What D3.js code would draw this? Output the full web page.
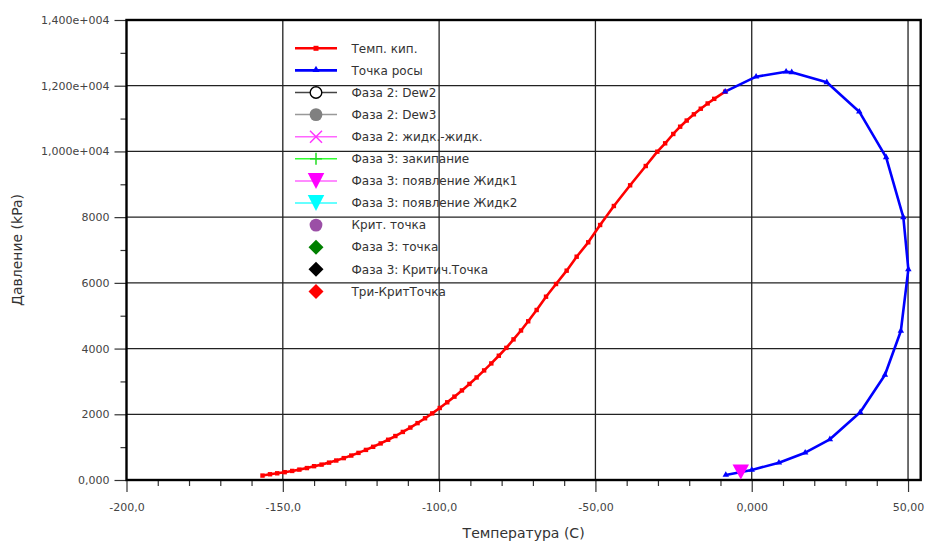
<!DOCTYPE html>
<html><head><meta charset="utf-8">
<script src="https://cdn.jsdelivr.net/npm/d3@7"></script>
<style>
html,body{margin:0;padding:0;background:#fff;}
svg{display:block;font-family:"DejaVu Sans",sans-serif;}
</style></head>
<body>
<svg id="chart" width="927" height="541"></svg>
<script>
// ---- DATA ----
const bubbleT = [-156.5,-154.1,-151.8,-149.4,-147.0,-144.7,-142.3,-140.0,-137.6,-135.2,-132.9,-130.5,-128.1,-125.8,-123.4,-121.1,-118.7,-116.3,-114.0,-111.6,-109.2,-106.9,-104.5,-102.2,-99.8,-97.4,-95.1,-92.7,-90.3,-88.0,-85.6,-83.3,-80.9,-78.5,-76.2,-73.8,-71.5,-68.8,-65.8,-62.6,-59.2,-56.0,-52.3,-48.5,-44.1,-38.9,-33.9,-30.2,-27.7,-25.1,-22.9,-20.8,-18.5,-16.3,-14.1,-12.0,-8.5];
const bubbleP = [135,175,204,238,276,316,363,420,468,529,593,666,744,825,916,1010,1113,1225,1338,1463,1596,1731,1879,2028,2192,2365,2537,2726,2924,3121,3335,3548,3782,4021,4280,4550,4830,5174,5579,5965,6371,6796,7234,7761,8339,8969,9556,9992,10247,10531,10753,10940,11130,11300,11460,11600,11818];
const dewT = [-8.3,0.0,8.7,17.1,25.0,34.7,42.6,47.7,50.1,48.5,43.0,34.4,24.0,12.8,11.0,1.4,-8.5];
const dewP = [152,304,527,831,1239,2060,3196,4535,6413,7995,9821,11209,12104,12408,12427,12275,11818];
const liq1T = [-3.5];
const liq1P = [240];
const xTicks = [-200,-150,-100,-50,0,50];
const xTickLabels = ["-200,0","-150,0","-100,0","-50,00","0,000","50,00"];
const yTicks = [0,2000,4000,6000,8000,10000,12000,14000];
const yTickLabels = ["0,000","2000","4000","6000","8000","1,000e+004","1,200e+004","1,400e+004"];
const legendLabels = ["Темп. кип.","Точка росы","Фаза 2: Dew2","Фаза 2: Dew3","Фаза 2: жидк.-жидк.","Фаза 3: закипание","Фаза 3: появление Жидк1","Фаза 3: появление Жидк2","Крит. точка","Фаза 3: точка","Фаза 3: Критич.Точка","Три-КритТочка"];
const xTitle = "Температура (С)";
const yTitle = "Давление (kPa)";

// ---- DRAW ----
const svg = d3.select("#chart");
const L = 126.5, R = 920.7, T = 20, B = 480;
const x = d3.scaleLinear().domain([-200, 54.05]).range([L, R]);
const y = d3.scaleLinear().domain([0, 14000]).range([B, T]);

const xMinor = d3.range(-200, 55, 10).filter(v => v % 50 !== 0);
const yMinor = d3.range(1000, 14000, 2000);

// grid
const grid = svg.append("g");
grid.selectAll("line.gx").data(xTicks.filter(v => v > -200)).enter().append("line")
  .attr("x1", d => x(d)).attr("x2", d => x(d)).attr("y1", T).attr("y2", B)
  .attr("stroke", "#222").attr("stroke-width", 1.3);
grid.selectAll("line.gy").data(yTicks.filter(v => v > 0 && v < 14000)).enter().append("line")
  .attr("x1", L).attr("x2", R).attr("y1", d => y(d)).attr("y2", d => y(d))
  .attr("stroke", "#222").attr("stroke-width", 1.3);

// axes
const yAxis = d3.axisLeft(y).tickValues(yTicks).tickSize(12).tickPadding(5)
  .tickFormat((d, i) => yTickLabels[i]);
const gy = svg.append("g").attr("transform", `translate(${L},0)`).call(yAxis);
const xAxis = d3.axisBottom(x).tickValues(xTicks).tickSize(12).tickPadding(11)
  .tickFormat((d, i) => xTickLabels[i]);
const gx = svg.append("g").attr("transform", `translate(0,${B})`).call(xAxis);
[gx, gy].forEach(g => {
  g.select(".domain").remove();
  g.selectAll(".tick line").attr("stroke", "#333").attr("stroke-width", 1.2);
  g.selectAll(".tick text").attr("fill", "#444").style("font-size", "11px")
    .style("font-family", "'DejaVu Sans',sans-serif");
});
svg.append("g").attr("transform", `translate(${L},0)`)
  .call(d3.axisLeft(y).tickValues(yMinor).tickSize(6).tickFormat(""))
  .call(g => { g.select(".domain").remove(); g.selectAll("line").attr("stroke", "#333").attr("stroke-width", 1.2); });
svg.append("g").attr("transform", `translate(0,${B})`)
  .call(d3.axisBottom(x).tickValues(xMinor).tickSize(6).tickFormat(""))
  .call(g => { g.select(".domain").remove(); g.selectAll("line").attr("stroke", "#333").attr("stroke-width", 1.2); });

// frame
svg.append("rect").attr("x", L).attr("y", T).attr("width", R - L).attr("height", B - T)
  .attr("fill", "none").attr("stroke", "#000").attr("stroke-width", 2.4);

// titles
svg.append("text").attr("x", (L + R) / 2).attr("y", 538).attr("text-anchor", "middle")
  .attr("fill", "#333").style("font-size", "14px").text(xTitle);
svg.append("text").attr("transform", `translate(22,${(T + B) / 2}) rotate(-90)`)
  .attr("text-anchor", "middle").attr("fill", "#333").style("font-size", "14px").text(yTitle);

// curves
const bubble = bubbleT.map((t, i) => [t, bubbleP[i]]);
const dew = dewT.map((t, i) => [t, dewP[i]]);
const line = d3.line().x(d => x(d[0])).y(d => y(d[1]));
svg.append("path").datum(bubble).attr("d", line).attr("fill", "none")
  .attr("stroke", "#ff0000").attr("stroke-width", 2.6).attr("stroke-linejoin", "round");
svg.append("path").datum(dew).attr("d", line).attr("fill", "none")
  .attr("stroke", "#0000ff").attr("stroke-width", 2.6).attr("stroke-linejoin", "round");
svg.selectAll("rect.bm").data(bubble).enter().append("rect")
  .attr("x", d => x(d[0]) - 2.2).attr("y", d => y(d[1]) - 2.2)
  .attr("width", 4.4).attr("height", 4.4).attr("fill", "#ff0000");
const triUp = d3.symbol().type(d3.symbolTriangle).size(18);
svg.selectAll("path.dm").data(dew).enter().append("path")
  .attr("transform", d => `translate(${x(d[0])},${y(d[1])})`)
  .attr("d", triUp).attr("fill", "#0000ff");

// special point: Жидк1
function downTri(cx, cy, w, h) {
  return `M${cx - w / 2},${cy - h / 2}L${cx + w / 2},${cy - h / 2}L${cx},${cy + h / 2}Z`;
}
liq1T.forEach((t, i) => {
  svg.append("path").attr("d", downTri(x(t), y(liq1P[i]), 16.5, 15)).attr("fill", "#ff00ff");
});

// legend
const lg = svg.append("g");
const lx0 = 295, lx1 = 337, lmx = 316, ltx = 351.5, ly0 = 48.3, ldy = 22.1;
const items = [
  {line: "#ff0000", sym: "sq", c: "#ff0000"},
  {line: "#0000ff", sym: "tri", c: "#0000ff"},
  {line: "#444", sym: "ocirc", c: "#000"},
  {line: "#999", sym: "circ", c: "#808080"},
  {line: "#ff66ff", sym: "x", c: "#ff33ff"},
  {line: "#33ff33", sym: "plus", c: "#22dd22"},
  {line: "#ff66ff", sym: "dtri", c: "#ff00ff"},
  {line: "#33ffff", sym: "dtri", c: "#00ffff"},
  {line: null, sym: "circ", c: "#9b4fa6"},
  {line: null, sym: "dia", c: "#008000"},
  {line: null, sym: "dia", c: "#000000"},
  {line: null, sym: "dia", c: "#ff0000"}
];
items.forEach((it, i) => {
  const yy = ly0 + i * ldy;
  const g = lg.append("g");
  if (it.line) g.append("line").attr("x1", lx0).attr("x2", lx1).attr("y1", yy).attr("y2", yy)
    .attr("stroke", it.line).attr("stroke-width", i < 2 ? 2.6 : 1.5);
  if (it.sym === "sq") g.append("rect").attr("x", lmx - 2.5).attr("y", yy - 2.5).attr("width", 5).attr("height", 5).attr("fill", it.c);
  if (it.sym === "tri") g.append("path").attr("transform", `translate(${lmx},${yy - 0.5})`).attr("d", d3.symbol().type(d3.symbolTriangle).size(22)).attr("fill", it.c);
  if (it.sym === "ocirc") g.append("circle").attr("cx", lmx).attr("cy", yy).attr("r", 5.8).attr("fill", "#fff").attr("stroke", it.c).attr("stroke-width", 1.4);
  if (it.sym === "circ") g.append("circle").attr("cx", lmx).attr("cy", yy).attr("r", 6.4).attr("fill", it.c);
  if (it.sym === "x") g.append("path").attr("d", `M${lmx - 6},${yy - 6}L${lmx + 6},${yy + 6}M${lmx - 6},${yy + 6}L${lmx + 6},${yy - 6}`).attr("stroke", it.c).attr("stroke-width", 1.5);
  if (it.sym === "plus") g.append("path").attr("d", `M${lmx - 6},${yy}L${lmx + 6},${yy}M${lmx},${yy - 6}L${lmx},${yy + 6}`).attr("stroke", it.c).attr("stroke-width", 1.5);
  if (it.sym === "dtri") g.append("path").attr("d", downTri(lmx, yy, 16.5, 16)).attr("fill", it.c);
  if (it.sym === "dia") g.append("path").attr("d", `M${lmx},${yy - 7.5}L${lmx + 7.5},${yy}L${lmx},${yy + 7.5}L${lmx - 7.5},${yy}Z`).attr("fill", it.c);
  g.append("text").attr("x", ltx).attr("y", yy).attr("dy", "0.35em").attr("fill", "#333")
    .style("font-size", "12px").text(legendLabels[i]);
});
</script>
</body></html>
